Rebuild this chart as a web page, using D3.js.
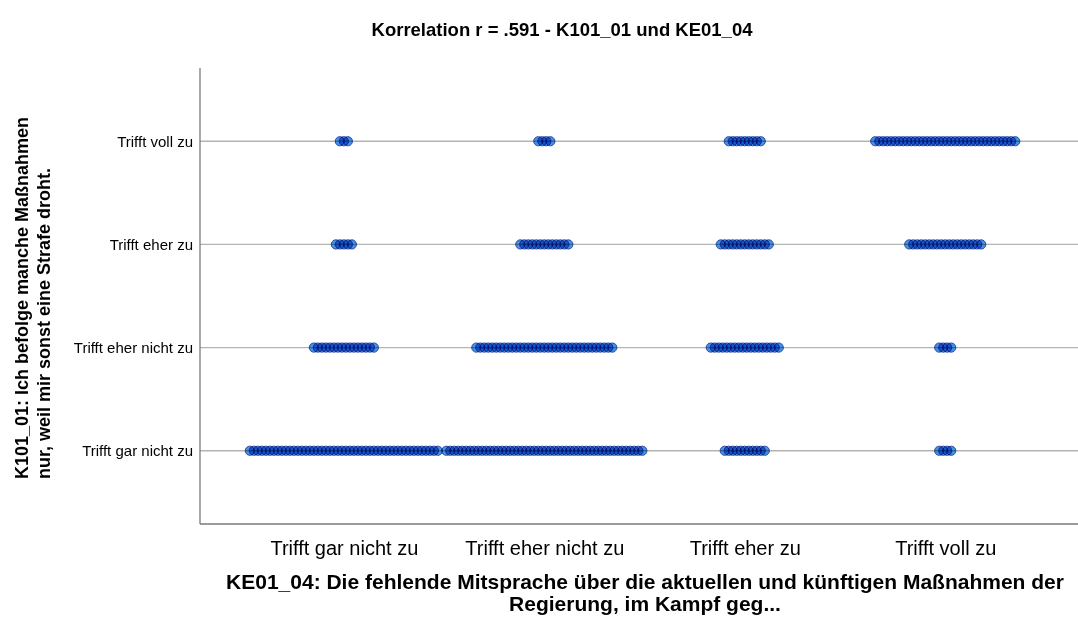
<!DOCTYPE html>
<html>
<head>
<meta charset="utf-8">
<script src="https://cdn.jsdelivr.net/npm/d3@7"></script>
<style>
  html, body { margin: 0; padding: 0; background: #fff; }
  svg { display: block; background: #fff; }
  text { font-family: "Liberation Sans", Arial, sans-serif; fill: #000; }
  .dot { mix-blend-mode: multiply; }
</style>
</head>
<body>
<svg id="chart" width="1078" height="623"></svg>
<script>
// Answer categories (same scale on both axes)
const xCategories = ["Trifft gar nicht zu", "Trifft eher nicht zu", "Trifft eher zu", "Trifft voll zu"];
const yCategories = ["Trifft gar nicht zu", "Trifft eher nicht zu", "Trifft eher zu", "Trifft voll zu"];

// Number of cases per K101_01 answer (rows), across KE01_04 answers (columns)
const countsGarNicht   = [48, 50, 11, 4];
const countsEherNicht  = [16, 35, 18, 4];
const countsEherZu     = [5, 13, 13, 19];
const countsVollZu     = [3, 4, 9, 36];
const rowCounts = [countsGarNicht, countsEherNicht, countsEherZu, countsVollZu];

const titleText = "Korrelation r = .591 - K101_01 und KE01_04";
const xTitleLines = ["KE01_04: Die fehlende Mitsprache über die aktuellen und künftigen Maßnahmen der", "Regierung, im Kampf geg..."];
const yTitleLines = ["K101_01: Ich befolge manche Maßnahmen", "nur, weil mir sonst eine Strafe droht."];

const svg = d3.select("#chart");
const plot = { left: 200, right: 1078, top: 68, bottom: 524 };

const x = d3.scalePoint().domain(xCategories)
  .range([plot.left, plot.right]).padding(0.69).align(0.52);
const y = d3.scalePoint().domain(yCategories)
  .range([plot.bottom, plot.top]).padding(0.71);

// horizontal reference lines at each category
svg.append("g").selectAll("line").data(yCategories).join("line")
  .attr("x1", plot.left).attr("x2", plot.right)
  .attr("y1", d => y(d)).attr("y2", d => y(d))
  .attr("stroke", "#b4b4b4").attr("stroke-width", 1.3);

// axes
const yAxis = svg.append("g").attr("transform", `translate(${plot.left},0)`)
  .call(d3.axisLeft(y).tickSize(0).tickPadding(7));
yAxis.select(".domain").remove();
yAxis.selectAll("text").style("font-size", "15px");

const xAxis = svg.append("g").attr("transform", `translate(0,${plot.bottom})`)
  .call(d3.axisBottom(x).tickSize(0).tickPadding(17));
xAxis.select(".domain").remove();
xAxis.selectAll("text").style("font-size", "20px");

svg.append("line").attr("x1", plot.left).attr("x2", plot.left)
  .attr("y1", plot.top).attr("y2", plot.bottom)
  .attr("stroke", "#7a7a7a").attr("stroke-width", 1.3);
svg.append("line").attr("x1", plot.left).attr("x2", plot.right)
  .attr("y1", plot.bottom).attr("y2", plot.bottom)
  .attr("stroke", "#7a7a7a").attr("stroke-width", 1.3);

// stacked dots: one marker per case, spread horizontally around the category
const dotStep = 4;
const points = [];
rowCounts.forEach((row, ri) => {
  row.forEach((n, ci) => {
    for (let i = 0; i < n; i++) {
      points.push({ xc: xCategories[ci], yc: yCategories[ri], offset: (i - (n - 1) / 2) * dotStep });
    }
  });
});

svg.append("g").selectAll("circle").data(points).join("circle")
  .attr("class", "dot")
  .attr("cx", d => x(d.xc) + d.offset)
  .attr("cy", d => y(d.yc))
  .attr("r", 4.6)
  .attr("fill", "#4692e2")
  .attr("stroke", "#2c4aa8")
  .attr("stroke-width", 1);

// titles
svg.append("text").attr("x", 562).attr("y", 36)
  .attr("text-anchor", "middle").style("font-size", "18.5px").style("font-weight", "bold")
  .text(titleText);

svg.append("g").selectAll("text").data(xTitleLines).join("text")
  .attr("text-anchor", "middle").style("font-size", "21px").style("font-weight", "bold")
  .attr("x", 645).attr("y", (d, i) => 589 + i * 22).text(d => d);

svg.append("g").attr("transform", "translate(0,479) rotate(-90)")
  .selectAll("text").data(yTitleLines).join("text")
  .attr("text-anchor", "start").style("font-size", "18px").style("font-weight", "bold")
  .attr("x", 0).attr("y", (d, i) => 28 + i * 22).text(d => d);
</script>
</body>
</html>
